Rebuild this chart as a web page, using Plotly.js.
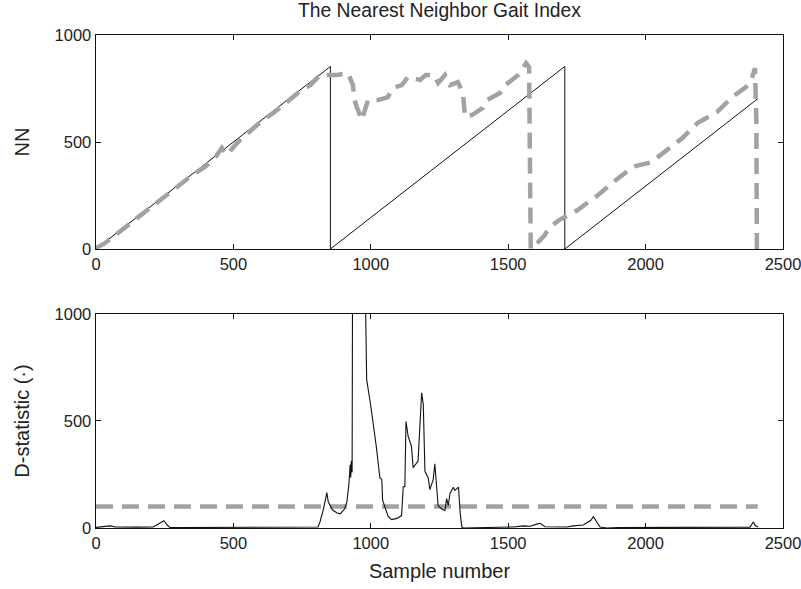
<!DOCTYPE html>
<html>
<head>
<meta charset="utf-8">
<script src="https://cdn.plot.ly/plotly-3.0.1.min.js"></script>
<style>html,body{margin:0;padding:0;background:#fff;}#chart{width:801px;height:589px;}</style>
</head>
<body>
<div id="chart"></div>
<script>
// ---- Data ----
// Top panel: true (reference) nearest-neighbor index, a sawtooth
var nnRefX = [0, 853, 853, 1706, 1706, 2408];
var nnRefY = [0, 853, 0, 853, 0, 702];

// Top panel: estimated nearest-neighbor index (gray dashed)
var nnEstX = [0, 30, 60, 100, 150, 200, 250, 300, 350, 397, 430, 458, 476, 520, 560, 600, 650, 700, 740, 780, 800, 815, 877, 917, 935, 940, 950, 967, 990, 1027, 1062, 1080, 1113, 1135, 1179, 1200, 1230, 1245, 1270, 1288, 1317, 1335, 1343, 1368, 1408, 1423, 1470, 1481, 1536, 1565, 1576, 1579, 1582, 1600, 1630, 1650, 1685, 1750, 1825, 1890, 1955, 2020, 2090, 2135, 2190, 2260, 2315, 2365, 2385, 2398, 2403, 2405];
var nnEstY = [5, 25, 55, 95, 145, 195, 240, 295, 345, 385, 420, 472, 440, 505, 550, 595, 640, 690, 735, 765, 790, 813, 813, 822, 766, 700, 660, 603, 696, 696, 710, 752, 766, 804, 790, 813, 813, 776, 813, 766, 780, 729, 617, 626, 659, 696, 729, 757, 813, 869, 850, 430, 0, 20, 60, 100, 135, 180, 250, 320, 385, 405, 475, 520, 590, 640, 710, 757, 790, 845, 600, 0];

// Bottom panel: D-statistic (black)
var dX = [0, 20, 51, 70, 100, 150, 208, 228, 247, 258, 269, 300, 400, 500, 600, 700, 800, 808, 815, 827, 840, 845, 860, 877, 889, 905, 913, 920, 925, 927, 929, 932, 934, 950, 965, 979, 985, 1000, 1020, 1033, 1040, 1043, 1051, 1063, 1076, 1095, 1112, 1118, 1124, 1128, 1136, 1148, 1154, 1172, 1185, 1191, 1197, 1209, 1215, 1227, 1233, 1240, 1245, 1258, 1270, 1276, 1282, 1288, 1300, 1306, 1319, 1325, 1331, 1337, 1400, 1500, 1518, 1555, 1580, 1604, 1616, 1634, 1700, 1713, 1737, 1773, 1800, 1810, 1834, 1858, 1900, 2000, 2100, 2200, 2300, 2380, 2392, 2398, 2410];
var dY = [3, 5, 10, 5, 4, 4, 5, 20, 34, 15, 3, 2, 2, 2, 2, 2, 2, 5, 28, 85, 165, 124, 85, 70, 66, 90, 123, 200, 296, 235, 314, 260, 1400, 1600, 1400, 1200, 693, 570, 380, 235, 227, 130, 100, 54, 39, 45, 58, 193, 193, 498, 428, 381, 282, 313, 632, 577, 265, 234, 179, 226, 300, 167, 105, 89, 82, 137, 105, 160, 191, 176, 191, 74, 5, 0, 2, 3, 5, 10, 8, 18, 22, 6, 4, 5, 10, 14, 35, 53, 5, 0, 2, 2, 3, 2, 3, 4, 28, 13, 5];

// Bottom panel: threshold (gray dashed)
var thrX = [0, 2408];
var thrY = [100, 100];

// Tick labels
var xTicks = [0, 500, 1000, 1500, 2000, 2500];
var yTicks = [0, 500, 1000];

// ---- Styling ----
var gray = 'rgb(160,162,165)';
var textColor = '#222';
var fam = 'Liberation Sans, Arial, sans-serif';
var tickFont = {family: fam, size: 16.5, color: textColor};

function axisBase() {
  return {
    showline: true, linecolor: '#111', linewidth: 1.4, mirror: 'ticks',
    ticks: 'inside', ticklen: 5, tickwidth: 1, tickcolor: '#111',
    showgrid: false, zeroline: false, tickfont: tickFont, ticklabeloverflow: 'allow'
  };
}

var xa1 = Object.assign(axisBase(), {domain: [0, 1], anchor: 'y', range: [0, 2500], tickmode: 'array', tickvals: xTicks, ticktext: xTicks.map(String)});
var xa2 = Object.assign(axisBase(), {domain: [0, 1], anchor: 'y2', range: [0, 2500], tickmode: 'array', tickvals: xTicks, ticktext: xTicks.map(String),
  title: {text: 'Sample number', font: {family: fam, size: 20, color: textColor}, standoff: 12}});
var ya1 = Object.assign(axisBase(), {domain: [0.5659, 1], anchor: 'x', range: [0, 1000], tickmode: 'array', tickvals: yTicks, ticktext: yTicks.map(String),
  title: {text: 'NN', font: {family: fam, size: 20, color: textColor}, standoff: 19}});
var ya2 = Object.assign(axisBase(), {domain: [0, 0.4341], anchor: 'x2', range: [0, 1000], tickmode: 'array', tickvals: yTicks, ticktext: yTicks.map(String),
  title: {text: 'D-statistic (·)', font: {family: fam, size: 20, color: textColor}, standoff: 19}});

var traces = [
  {x: nnRefX, y: nnRefY, xaxis: 'x', yaxis: 'y', type: 'scatter', mode: 'lines',
   line: {color: '#111', width: 1}, name: 'reference', showlegend: false, hoverinfo: 'skip'},
  {x: nnEstX, y: nnEstY, xaxis: 'x', yaxis: 'y', type: 'scatter', mode: 'lines',
   line: {color: gray, width: 4.5, dash: '16px,9px'}, name: 'NN', showlegend: false},
  {x: thrX, y: thrY, xaxis: 'x2', yaxis: 'y2', type: 'scatter', mode: 'lines',
   line: {color: gray, width: 4.5, dash: '17px,9px'}, name: 'threshold', showlegend: false},
  {x: dX, y: dY, xaxis: 'x2', yaxis: 'y2', type: 'scatter', mode: 'lines',
   line: {color: '#111', width: 1.1}, name: 'D-statistic', showlegend: false}
];

var layout = {
  width: 801, height: 589,
  margin: {l: 96, r: 18, t: 35, b: 61, pad: 0},
  paper_bgcolor: '#fff', plot_bgcolor: '#fff',
  showlegend: false,
  title: {text: 'The Nearest Neighbor Gait Index', font: {family: fam, size: 19.3, color: textColor},
          x: 0.5, xanchor: 'center', xref: 'paper', yref: 'container', y: 0.982, yanchor: 'middle'},
  xaxis: xa1, yaxis: ya1, xaxis2: xa2, yaxis2: ya2
};

Plotly.newPlot('chart', traces, layout, {displayModeBar: false, staticPlot: true});
</script>
</body>
</html>
